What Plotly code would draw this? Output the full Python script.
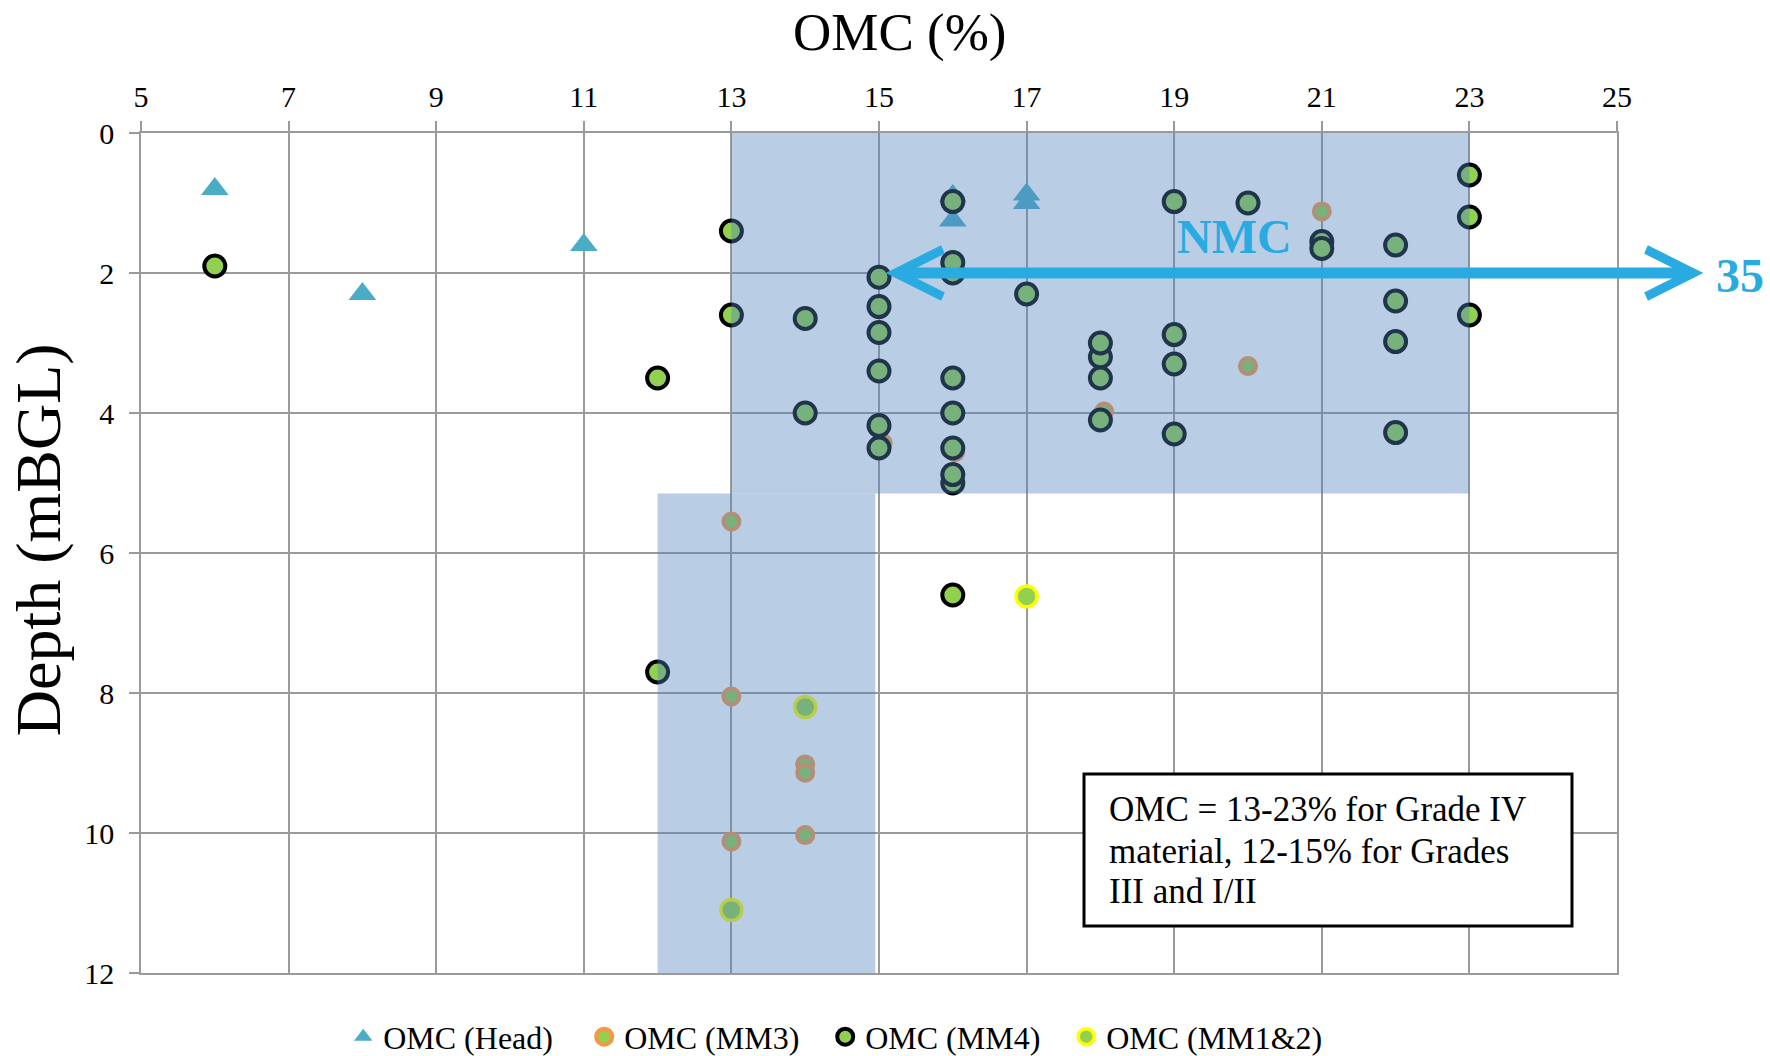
import plotly.graph_objects as go

# Optimum moisture content (OMC) against sample depth, by material group
head_omc = [6, 8, 11, 16, 16, 17, 17]
head_depth = [0.8, 2.3, 1.6, 0.9, 1.25, 0.88, 1.0]

mm3_omc = [13, 13, 13, 14, 14, 14, 15.05, 16.03, 18.05, 20, 21]
mm3_depth = [5.55, 8.05, 10.12, 9.02, 9.14, 10.03, 4.43, 4.56, 3.98, 3.33, 1.12]

mm4_omc = [6, 12, 12, 13, 13, 14, 14,
           15, 15, 15, 15, 15, 15,
           16, 16, 16, 16, 16, 16, 16, 16, 16,
           17, 18, 18, 18, 18,
           19, 19, 19, 19, 20, 21, 21,
           22, 22, 22, 22, 23, 23, 23]
mm4_depth = [1.9, 3.5, 7.7, 1.4, 2.6, 2.65, 4.0,
             2.06, 2.48, 2.85, 3.4, 4.18, 4.5,
             0.98, 2.0, 1.85, 3.5, 4.0, 4.5, 5.0, 4.88, 6.6,
             2.3, 3.2, 3.0, 3.5, 4.1,
             0.98, 2.88, 3.3, 4.3, 1.0, 1.55, 1.65,
             1.6, 2.4, 2.98, 4.28, 0.6, 1.2, 2.6]

mm12_omc = [13, 14, 17]
mm12_depth = [11.1, 8.2, 6.62]

# Specification envelopes (OMC range, depth range)
grade4_omc = (13, 23)
grade4_depth = (0, 5.15)
grade3_omc = (12, 14.95)
grade3_depth = (5.15, 12)

# Natural moisture content band
nmc_from = 15.09
nmc_to = 26.19
nmc_depth = 2
nmc_max_label = "35"

x_ticks = list(range(5, 26, 2))
y_ticks = list(range(0, 13, 2))

SERIF = "Liberation Serif"
GRID = "#9A9A9A"
GREEN = "#92D050"
NMC_BLUE = "#29ABE2"
ENVELOPE = "rgba(79,129,189,0.40)"

fig = go.Figure()

fig.add_trace(go.Scatter(
    x=head_omc, y=head_depth, mode="markers", name="OMC (Head)",
    marker=dict(symbol="triangle-up", size=24, color="#4BACC6", line=dict(width=0)),
))
fig.add_trace(go.Scatter(
    x=mm3_omc, y=mm3_depth, mode="markers", name="OMC (MM3)",
    marker=dict(symbol="circle", size=16, color=GREEN, line=dict(color="#F79646", width=4)),
))
fig.add_trace(go.Scatter(
    x=mm4_omc, y=mm4_depth, mode="markers", name="OMC (MM4)",
    marker=dict(symbol="circle", size=21, color=GREEN, line=dict(color="#000000", width=4)),
))
fig.add_trace(go.Scatter(
    x=mm12_omc, y=mm12_depth, mode="markers", name="OMC (MM1&2)", legendwidth=240,
    marker=dict(symbol="circle", size=21, color=GREEN, line=dict(color="#FFFF00", width=3.5)),
))

# Translucent envelopes sit above the markers
for (x0, x1), (y0, y1) in [(grade4_omc, grade4_depth), (grade3_omc, grade3_depth)]:
    fig.add_shape(type="rect", xref="x", yref="y", x0=x0, x1=x1, y0=y0, y1=y1,
                  fillcolor=ENVELOPE, line=dict(width=0), layer="above")

# Note box
fig.add_shape(type="rect", xref="paper", yref="paper",
              x0=0.6389, x1=0.9695, y0=0.0560, y1=0.2369,
              fillcolor="white", line=dict(color="black", width=3), layer="above")
note_lines = ["OMC = 13-23% for Grade IV", "material, 12-15% for Grades", "III and I/II"]
for line, yp in zip(note_lines, [0.1952, 0.1452, 0.0976]):
    fig.add_annotation(text=line, xref="paper", yref="paper", x=0.6545, y=yp,
                       xanchor="left", yanchor="middle", showarrow=False,
                       font=dict(family=SERIF, size=35, color="black"))

# NMC double-headed arrow
fig.add_annotation(x=nmc_from, y=nmc_depth, ax=nmc_to, ay=nmc_depth,
                   xref="x", yref="y", axref="x", ayref="y",
                   text=" ", font=dict(size=1), showarrow=True,
                   arrowside="end+start", arrowhead=5, startarrowhead=5,
                   arrowsize=0.84, startarrowsize=0.84, arrowwidth=11,
                   arrowcolor=NMC_BLUE, standoff=0, startstandoff=0)
fig.add_annotation(text="<b>NMC</b>", x=19.82, y=1.48, xref="x", yref="y",
                   showarrow=False, font=dict(family=SERIF, size=48, color=NMC_BLUE))
fig.add_annotation(text="<b>" + nmc_max_label + "</b>", x=1.0833, y=2.03, xref="paper", yref="y",
                   xanchor="center", yanchor="middle",
                   showarrow=False, font=dict(family=SERIF, size=48, color=NMC_BLUE))

# Axis titles
fig.add_annotation(text="OMC (%)", xref="paper", yref="paper", x=0.5136, y=1.12,
                   xanchor="center", yanchor="middle", showarrow=False,
                   font=dict(family=SERIF, size=53, color="black"))
fig.add_annotation(text="Depth (mBGL)", xref="paper", yref="paper", x=-0.069, y=0.5155,
                   xanchor="center", yanchor="middle", showarrow=False, textangle=-90,
                   font=dict(family=SERIF, size=64, color="black"))

axis_common = dict(
    showgrid=True, gridcolor=GRID, gridwidth=1.5,
    showline=True, mirror=True, linecolor=GRID, linewidth=1.5,
    ticks="outside", ticklen=10, tickcolor=GRID, tickwidth=1.5,
    zeroline=False, tickfont=dict(family=SERIF, size=30, color="black"),
)
fig.update_xaxes(range=[5, 25], side="top", tickvals=x_ticks, ticklabelstandoff=2, **axis_common)
fig.update_yaxes(range=[12, 0], tickvals=y_ticks, ticklabelstandoff=9, **axis_common)

fig.update_layout(
    width=1770, height=1056,
    margin=dict(l=141, r=153, t=133, b=83, pad=0, autoexpand=False),
    paper_bgcolor="white", plot_bgcolor="white",
    font=dict(family=SERIF, color="black"),
    showlegend=True,
    legend=dict(orientation="h", x=0.137, xanchor="left", y=-0.076, yanchor="middle",
                font=dict(family=SERIF, size=32, color="black"),
                entrywidth=196, entrywidthmode="pixels",
                bgcolor="rgba(0,0,0,0)", borderwidth=0),
)

fig.write_html("out.html")
